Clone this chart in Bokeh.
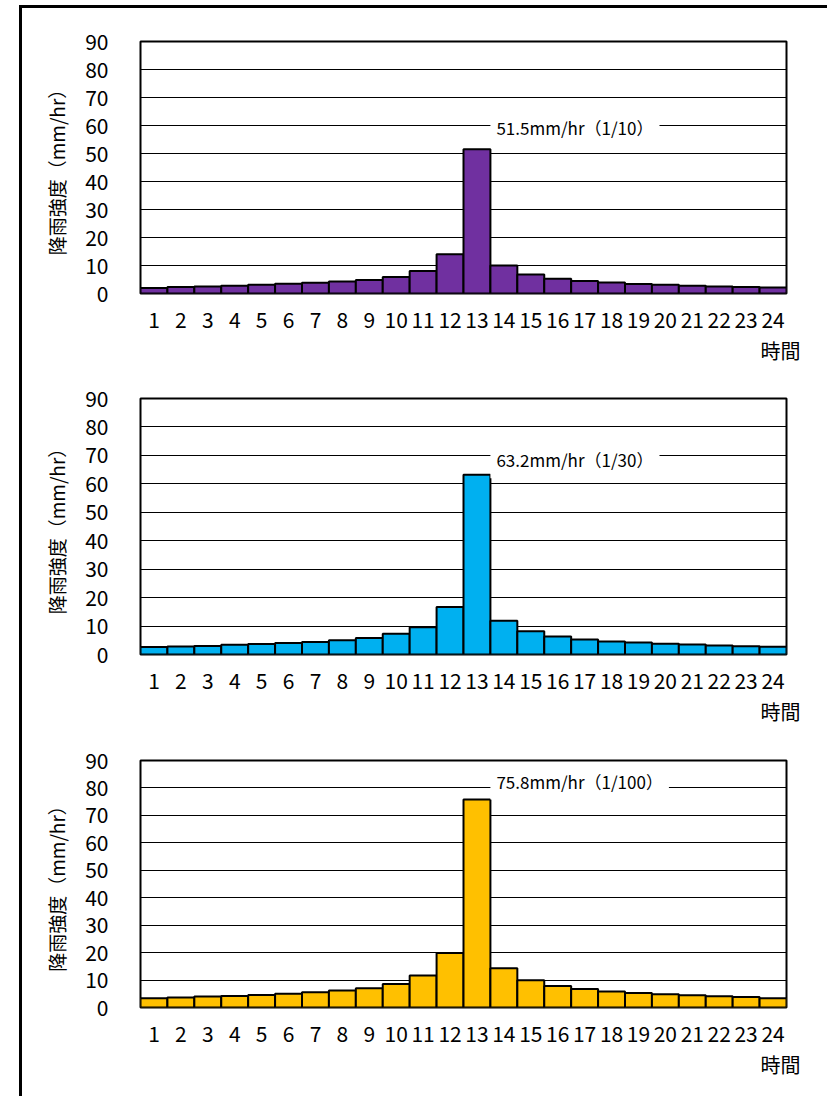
from bokeh.plotting import figure
from bokeh.models import ColumnDataSource, Range1d, FactorRange, FixedTicker, Label, Title
from bokeh.layouts import column
from bokeh.embed import file_html
from bokeh.resources import INLINE

hours = ["1", "2", "3", "4", "5", "6", "7", "8", "9", "10", "11", "12",
         "13", "14", "15", "16", "17", "18", "19", "20", "21", "22", "23", "24"]

rain_10 = [2.0, 2.3, 2.5, 2.8, 3.1, 3.5, 3.8, 4.3, 4.8, 5.9, 8.0, 14.0,
           51.5, 10.0, 6.8, 5.3, 4.5, 3.9, 3.4, 3.1, 2.8, 2.5, 2.3, 2.1]
rain_30 = [2.6, 2.8, 3.0, 3.4, 3.7, 4.0, 4.4, 5.0, 5.8, 7.3, 9.6, 16.7,
           63.2, 11.9, 8.2, 6.3, 5.3, 4.6, 4.2, 3.8, 3.5, 3.2, 2.9, 2.7]
rain_100 = [3.4, 3.6, 4.0, 4.2, 4.6, 5.0, 5.6, 6.2, 7.0, 8.6, 11.7, 19.9,
            75.8, 14.3, 9.9, 7.8, 6.7, 5.8, 5.3, 4.8, 4.5, 4.1, 3.8, 3.4]

peak_labels = ["51.5mm/hr（1/10）", "63.2mm/hr（1/30）", "75.8mm/hr（1/100）"]
y_ticks = [0, 10, 20, 30, 40, 50, 60, 70, 80, 90]
y_title = "降雨強度（mm/hr）"
x_title = "時間"

FONT = "Noto Sans CJK JP"


def make_chart(values, color, label_text, label_y, height, top, bottom):
    src = ColumnDataSource(dict(hour=hours, value=values))
    p = figure(x_range=FactorRange(*hours), y_range=Range1d(0, 90),
               width=797, height=height, output_backend="svg",
               toolbar_location=None, tools="",
               min_border_left=118, min_border_right=33,
               min_border_top=top, min_border_bottom=bottom)
    p.vbar(x="hour", top="value", width=1.0, source=src,
           fill_color=color, line_color="black", line_width=2)
    p.outline_line_color = "black"
    p.outline_line_width = 2
    p.xgrid.grid_line_color = None
    p.ygrid.grid_line_color = "black"
    p.ygrid.grid_line_width = 1
    p.yaxis.ticker = FixedTicker(ticks=y_ticks)
    for ax in (p.xaxis[0], p.yaxis[0]):
        ax.axis_line_color = None
        ax.major_tick_line_color = None
        ax.minor_tick_line_color = None
        ax.major_label_text_font = FONT
        ax.major_label_text_font_size = "21px"
        ax.major_label_text_color = "black"
    p.yaxis.major_label_standoff = 26
    p.xaxis.major_label_standoff = 12
    p.yaxis.axis_label = y_title
    p.yaxis.axis_label_text_font = FONT
    p.yaxis.axis_label_text_font_size = "19px"
    p.yaxis.axis_label_text_font_style = "normal"
    p.yaxis.axis_label_standoff = 12
    p.yaxis.axis_label_text_color = "black"
    p.add_layout(Label(x=13.0, y=label_y, text=label_text,
                       text_font=FONT, text_font_size="17px",
                       text_baseline="middle", text_align="left",
                       background_fill_color="white", padding=6,
                       text_color="black"))
    p.add_layout(Title(text=x_title, align="right", offset=-14,
                       text_font=FONT, text_font_size="20px",
                       text_font_style="normal", text_color="black",
                       standoff=6), "below")
    return p


p1 = make_chart(rain_10, "#7030A0", peak_labels[0], 59.3, 362, 33, 77)
p2 = make_chart(rain_30, "#00B0F0", peak_labels[1], 68.5, 360, 28, 76)
p3 = make_chart(rain_100, "#FFC000", peak_labels[2], 82.5, 354, 30, 77)

layout = column(p1, p2, p3, spacing=0,
                styles={"border-left": "3px solid black",
                        "border-top": "3px solid black",
                        "margin-left": "19px",
                        "margin-top": "5px",
                        "padding-right": "12px",
                        "padding-bottom": "12px"})

open("out.html", "w").write(file_html(layout, INLINE))
